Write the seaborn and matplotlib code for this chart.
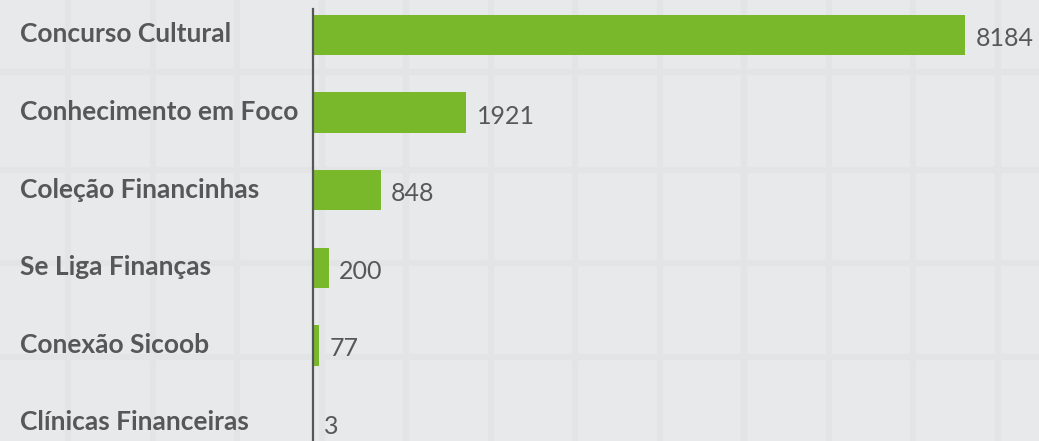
import matplotlib
matplotlib.use("Agg")
import matplotlib.pyplot as plt
import seaborn as sns
import pandas as pd
import numpy as np
from matplotlib.lines import Line2D

# Data
programas = ['Concurso Cultural', 'Conhecimento em Foco', 'Coleção Financinhas',
             'Se Liga Finanças', 'Conexão Sicoob', 'Clínicas Financeiras']
participantes = [8184, 1921, 848, 200, 77, 3]

df = pd.DataFrame({'Programa': programas, 'Participantes': participantes})

BG = '#e8e9eb'
GROUT = '#e3e4e6'
TEXT = '#555759'
GREEN = '#7ab82b'

sns.set_theme(style='white')
plt.rcParams['font.family'] = ['Lato', 'DejaVu Sans']

fig = plt.figure(figsize=(10.39, 4.41), dpi=100)
fig.patch.set_facecolor(BG)

# faint tile pattern of the background
W, H = 1039, 441
for x in np.arange(68, W, 84.5):
    fig.add_artist(Line2D([x / W, x / W], [0, 1], color=GROUT, lw=4.5, zorder=0))
for y in [72, 170, 263, 357]:
    fig.add_artist(Line2D([0, 1], [1 - y / H, 1 - y / H], color=GROUT, lw=4.5, zorder=0))

ax = fig.add_axes([313 / W, 0, 1 - 313 / W, (H - 9) / H])
ax.patch.set_alpha(0)

sns.barplot(data=df, y='Programa', x='Participantes', orient='h',
            color=GREEN, saturation=1, width=0.52, linewidth=0,
            edgecolor='none', ax=ax)

ax.set_xlim(0, 8184 * (W - 313) / 652)
ax.set_ylim(5.232, -0.335)

# value labels
for i, v in enumerate(participantes):
    ax.annotate(str(v), xy=(v, i), xytext=(7.5, -2.5), textcoords='offset points',
                va='center', ha='left', fontsize=18, color=TEXT)

# category labels, left aligned near the figure edge
for i, p in enumerate(programas):
    ax.annotate(p, xy=(0, i), xycoords=ax.get_yaxis_transform(),
                xytext=(-293 * 0.72, 0.5), textcoords='offset points',
                va='center', ha='left', fontsize=19, fontweight='bold', color=TEXT)

ax.set_xlabel('')
ax.set_ylabel('')
ax.set_xticks([])
ax.set_yticks([])

for s in ['top', 'right', 'bottom']:
    ax.spines[s].set_visible(False)
ax.spines['left'].set_color(TEXT)
ax.spines['left'].set_linewidth(1.6)

plt.savefig('out.png', dpi=100, facecolor=BG)
